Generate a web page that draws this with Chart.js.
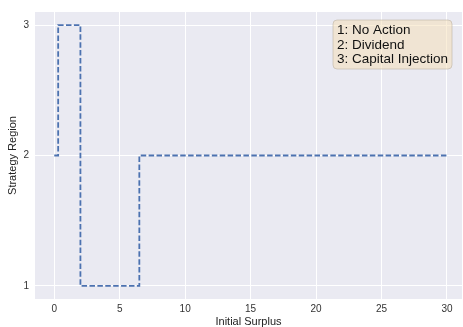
<!DOCTYPE html>
<html>
<head>
<meta charset="utf-8">
<script src="https://cdn.jsdelivr.net/npm/chart.js@4/dist/chart.umd.min.js"></script>
<style>
  html, body { margin: 0; padding: 0; background: #fff; }
  #wrap { width: 463px; height: 327px; }
</style>
</head>
<body>
<div id="wrap"><canvas id="grafico" width="463" height="327"></canvas></div>
<script>
// surplus points where the optimal strategy region changes
const surplus = [0, 0.3, 2.0, 6.5, 30];
const region = [2, 3, 1, 2, 2];
const xTicks = [0, 5, 10, 15, 20, 25, 30];
const yTicks = [1, 2, 3];
const legendLines = ['1: No Action', '2: Dividend', '3: Capital Injection'];

const fonte = 'Liberation Sans, Arial, sans-serif';

const fundoPlot = {
    id: 'fundoPlot',
    beforeDraw(chart) {
        const { ctx, chartArea: a } = chart;
        ctx.save();
        ctx.fillStyle = '#EAEAF2';
        ctx.fillRect(a.left, a.top, a.right - a.left, a.bottom - a.top);
        ctx.restore();
    }
};

const caixaTexto = {
    id: 'caixaTexto',
    afterDraw(chart) {
        const ctx = chart.ctx;
        const x = 333, y = 20, w = 119, h = 49, r = 4;
        ctx.save();
        ctx.beginPath();
        ctx.roundRect(x, y, w, h, r);
        ctx.fillStyle = 'rgba(245, 222, 179, 0.5)';
        ctx.fill();
        ctx.strokeStyle = 'rgba(190, 180, 165, 0.6)';
        ctx.lineWidth = 1;
        ctx.stroke();
        ctx.fillStyle = '#111';
        ctx.font = '13.5px ' + fonte;
        ctx.textBaseline = 'middle';
        legendLines.forEach((t, i) => ctx.fillText(t, x + 4, y + 10.5 + i * 14.3));
        ctx.restore();
    }
};

new Chart(document.getElementById('grafico'), {
    type: 'line',
    data: {
        datasets: [{
            data: surplus.map((s, i) => ({ x: s, y: region[i] })),
            stepped: 'before',
            borderColor: '#4C72B0',
            borderWidth: 1.8,
            borderDash: [5.5, 2.4],
            pointRadius: 0,
            fill: false
        }]
    },
    options: {
        responsive: false,
        animation: false,
        layout: { padding: { top: 10, right: 1, left: 6, bottom: 0 } },
        plugins: { legend: { display: false }, tooltip: { enabled: false } },
        scales: {
            x: {
                type: 'linear',
                min: -1.47,
                max: 31.15,
                afterBuildTicks: ax => { ax.ticks = xTicks.map(v => ({ value: v })); },
                afterFit: ax => { ax.height = 28; },
                grid: { color: '#ffffff', lineWidth: 1, drawTicks: false },
                border: { display: false },
                ticks: { color: '#333', font: { family: fonte, size: 10 }, padding: 4, maxRotation: 0 },
                title: { display: true, text: 'Initial Surplus', color: '#222', font: { family: fonte, size: 11 }, padding: { top: 4, bottom: -2 } }
            },
            y: {
                type: 'linear',
                min: 0.9,
                max: 3.1,
                afterBuildTicks: ax => { ax.ticks = yTicks.map(v => ({ value: v })); },
                afterFit: ax => { ax.width = 29; },
                grid: { color: '#ffffff', lineWidth: 1, drawTicks: false },
                border: { display: false },
                ticks: { color: '#333', font: { family: fonte, size: 10 }, padding: 6 },
                title: { display: true, text: 'Strategy Region', color: '#222', font: { family: fonte, size: 11 }, padding: { top: 0, bottom: 0 } }
            }
        }
    },
    plugins: [fundoPlot, caixaTexto]
});
</script>
</body>
</html>
